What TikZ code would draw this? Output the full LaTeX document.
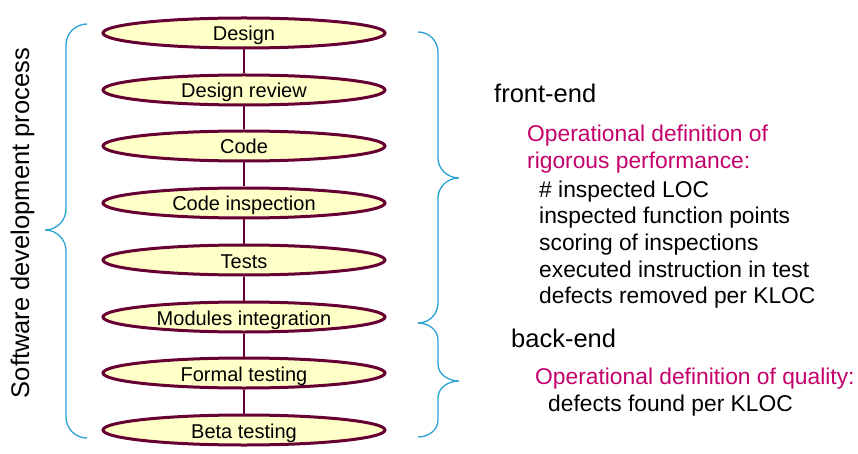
\documentclass[tikz,border=0pt]{standalone}
\usepackage{fontspec}
\setmainfont{Liberation Sans}
\usetikzlibrary{shapes.geometric}
\definecolor{maroon}{HTML}{660033}
\definecolor{paleyel}{HTML}{FFFFC8}
\definecolor{bracecol}{HTML}{2AA3D2}
\definecolor{pinktext}{HTML}{C4006A}
\tikzset{
  stage/.style={ellipse, draw=maroon, fill=paleyel, line width=3pt, minimum width=282pt, minimum height=30pt, inner sep=0pt, text height=16pt, text depth=0pt, font=\fontsize{20pt}{22pt}\selectfont},
  link/.style={draw=maroon, line width=1.5pt},
  brace/.style={draw=bracecol, line width=1.3pt},
  bigtxt/.style={anchor=base west, inner sep=0pt, font=\fontsize{25.5pt}{28pt}\selectfont},
  medtxt/.style={anchor=base west, inner sep=0pt, font=\fontsize{22.8pt}{26pt}\selectfont},
  pinktxt/.style={medtxt, text=pinktext}
}
\begin{document}
\begin{tikzpicture}[x=1pt,y=-1pt]
\useasboundingbox (0,0) rectangle (858,454);
% stages
\node[stage] (s1) at (244,33) {Design};
\node[stage] (s2) at (244,90) {Design review};
\node[stage] (s3) at (244,146) {Code};
\node[stage] (s4) at (244,203) {Code inspection};
\node[stage] (s5) at (244,260) {Tests};
\node[stage] (s6) at (244,317) {Modules integration};
\node[stage] (s7) at (244,373) {Formal testing};
\node[stage] (s8) at (244,430) {Beta testing};
\foreach \a/\b in {s1/s2,s2/s3,s3/s4,s4/s5,s5/s6,s6/s7,s7/s8}
  \draw[link] (\a.south) -- (\b.north);
% left label
\node[anchor=base, inner sep=0pt, rotate=90, font=\fontsize{25.5pt}{28pt}\selectfont] (lbl) at (29,223) {Software development process};
% left brace
\draw[brace] (87,24) to[out=180,in=90] (66,45) -- (66,209) to[out=-90,in=0] (45,230) to[out=0,in=90] (66,251) -- (66,417) to[out=-90,in=180] (87,438);
% right brace front-end
\draw[brace] (418,32) to[out=0,in=90] (438,52) -- (438,158) to[out=-90,in=180] (459,178) to[out=180,in=90] (438,198) -- (438,303) to[out=-90,in=0] (418,323);
% right brace back-end
\draw[brace] (418,323) to[out=0,in=90] (438,340) -- (438,364) to[out=-90,in=180] (459,381) to[out=180,in=90] (438,398) -- (438,420) to[out=-90,in=0] (418,437);
% texts
\node[bigtxt] (fe) at (494,103) {front-end};
\node[pinktxt] (op1) at (527,142) {Operational definition of};
\node[pinktxt] (op2) at (527,169) {rigorous performance:};
\node[medtxt] (m1) at (539,197) {\# inspected LOC};
\node[medtxt] (m2) at (539,223.5) {inspected function points};
\node[medtxt] (m3) at (539,250) {scoring of inspections};
\node[medtxt] (m4) at (539,277) {executed instruction in test};
\node[medtxt] (m5) at (539,303.5) {defects removed per KLOC};
\node[bigtxt] (be) at (511,347) {back-end};
\node[pinktxt] (oq) at (535,384) {Operational definition of quality:};
\node[medtxt] (df) at (548,411) {defects found per KLOC};
\end{tikzpicture}
\end{document}
